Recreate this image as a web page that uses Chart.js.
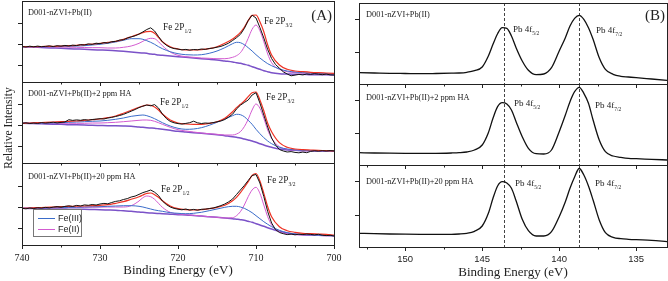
<!DOCTYPE html>
<html lang="en">
<head>
<meta charset="UTF-8">
<title>Fe 2p and Pb 4f XPS spectra</title>
<script src="https://cdn.jsdelivr.net/npm/chart.js"></script>
<style>
  body { margin: 0; background: #fff; }
  #fig { position: relative; width: 668px; height: 281px; overflow: hidden; font-family: "Liberation Serif", serif; color: #222; }
  #fig canvas { position: absolute; }
  .lbl { position: absolute; white-space: nowrap; line-height: 1; transform: translateY(-50%); }
  .name { font-size: 8.3px; }
  .peak { font-size: 9.3px; }
  .pb { font-size: 9px; }
  .s { font-size: 5.5px; position: relative; top: 3px; }
  .tag { font-size: 15px; transform: translate(-100%, -50%); }
  .ylab { position: absolute; left: 8px; top: 128px; font-size: 11.5px; white-space: nowrap; transform: translate(-50%, -50%) rotate(-90deg); }
  #legend { position: absolute; left: 33px; top: 209px; width: 49px; height: 28px; border: 1px solid #777; box-sizing: border-box;
            font-family: "Liberation Sans", sans-serif; font-size: 9px; padding-top: 3px; }
  #legend div { height: 11px; line-height: 11px; white-space: nowrap; }
  #legend span { display: inline-block; width: 17px; height: 1px; vertical-align: middle; margin: 0 3px 0 4px; }
</style>
</head>
<body>
<div id="fig">
  <canvas id="a1"></canvas><canvas id="a2"></canvas><canvas id="a3"></canvas>
  <canvas id="b1"></canvas><canvas id="b2"></canvas><canvas id="b3"></canvas>

  <div class="ylab">Relative Intensity</div>

  <!-- panel A labels -->
  <div class="lbl name" style="left:28px;top:13px">D001-nZVI+Pb(II)</div>
  <div class="lbl peak" style="left:163px;top:28px">Fe 2P<span class="s">1/2</span></div>
  <div class="lbl peak" style="left:264px;top:22px">Fe 2P<span class="s">3/2</span></div>
  <div class="lbl tag" style="left:332px;top:15px">(A)</div>
  <div class="lbl name" style="left:28px;top:94px">D001-nZVI+Pb(II)+2 ppm HA</div>
  <div class="lbl peak" style="left:160px;top:103px">Fe 2P<span class="s">1/2</span></div>
  <div class="lbl peak" style="left:266px;top:98px">Fe 2P<span class="s">3/2</span></div>
  <div class="lbl name" style="left:28px;top:177px">D001-nZVI+Pb(II)+20 ppm HA</div>
  <div class="lbl peak" style="left:161px;top:190px">Fe 2P<span class="s">1/2</span></div>
  <div class="lbl peak" style="left:267px;top:181px">Fe 2P<span class="s">3/2</span></div>
  <div id="legend"></div>

  <!-- panel B labels -->
  <div class="lbl name" style="left:366px;top:15px">D001-nZVI+Pb(II)</div>
  <div class="lbl pb" style="left:513px;top:29px">Pb 4f<span class="s">5/2</span></div>
  <div class="lbl pb" style="left:596px;top:30px">Pb 4f<span class="s">7/2</span></div>
  <div class="lbl tag" style="left:665px;top:15px">(B)</div>
  <div class="lbl name" style="left:366px;top:98px">D001-nZVI+Pb(II)+2 ppm HA</div>
  <div class="lbl pb" style="left:514px;top:103px">Pb 4f<span class="s">5/2</span></div>
  <div class="lbl pb" style="left:595px;top:105px">Pb 4f<span class="s">7/2</span></div>
  <div class="lbl name" style="left:366px;top:182px">D001-nZVI+Pb(II)+20 ppm HA</div>
  <div class="lbl pb" style="left:515px;top:183px">Pb 4f<span class="s">5/2</span></div>
  <div class="lbl pb" style="left:595px;top:183px">Pb 4f<span class="s">7/2</span></div>
</div>

<script>
// ---- Fe 2p (panel A) ----
const feE = [740,739,738,737,736,735,734,733,732,731,730,729,728,727,726,725,724.5,724,723.5,723,722.5,722,
  721,720,719,718,717,716,715,714,713,712.5,712,711.5,711,710.5,710,709.5,709,708.5,708,707,706,705,704,703,702,701,700];
const rawE = [740,739.5,739,738.5,738,737.5,737,736.5,736,735.5,735,734.5,734,733.5,733,732.5,732,731.5,731,730.5,
  730,729.5,729,728.5,728,727.5,727,726.5,726,725.5,725,724.5,724,723.5,723,722.5,722,721.5,721,720.5,
  720,719.5,719,718.5,718,717.5,717,716.5,716,715.5,715,714.5,714,713.5,713,712.5,712,711.5,711,710.5,
  710,709.5,709,708.5,708,707.5,707,706.5,706,705.5,705,704.5,704,703.5,703,702.5,702,701.5,701,700.5,700];

// D001-nZVI+Pb(II)
const a1Raw = [35.5,35.0,35.8,35.2,35.9,35.3,35.6,36.2,35.4,36.3,35.8,36.6,36.0,36.9,36.4,37.4,37.0,38.1,37.6,38.8,
  38.3,39.4,39.0,40.3,40.6,41.9,42.2,44.0,45.1,46.2,47.9,50.1,52.5,54.2,51.0,45.5,40.2,36.8,34.6,33.4,
  32.9,32.1,32.6,31.8,32.5,32.2,33.0,32.6,33.5,33.9,34.8,35.6,37.1,38.9,41.5,44.3,47.6,53.5,61.5,66.8,
  64.0,54.5,44.0,32.5,23.5,17.5,13.8,10.2,8.0,6.2,6.9,7.6,7.1,8.0,7.6,8.3,7.8,7.3,7.9,7.2,7.0];
const a1Fit = [35.3,35.3,35.3,35.7,35.7,36,36.3,36.7,37.3,38,38.7,39.7,40.7,42.7,45.3,48,49.3,50.3,50.7,48.7,44.7,40.3,
  35.3,33,32,32,32.3,33.3,35.3,38.7,43,46,49.7,54.7,61.3,66.7,67,60.3,50.3,37,27,17,12.7,11,10.3,9.7,9.3,9,8.7];
const a1Fe3 = [35.3,35.3,35.3,35.3,35.3,35.7,35.7,36,36.3,37,37.7,38.7,40,41.7,43.3,43.3,42.7,41.3,39.7,37.7,35.3,33.3,
  30.3,28.3,27.3,27,27.3,28.7,31,34.3,38.3,39.7,39.3,37.3,34.3,31,27.3,24,21,18.3,16.3,13,11,10,9.3,9,8.7,8.3,8];
const a1Fe2 = [35.3,35.3,35.2,35.2,35,35,34.8,34.7,34.5,34.3,34.3,34,34,34.7,36,38.7,40.7,42.7,43.7,43.3,40.3,36.3,
  30,26.7,25.3,24.7,24,23.7,23.3,23.3,24.7,26.3,29.3,35.3,43.7,52.7,57,51.3,40.3,28,19.3,12.7,10.3,9.3,9,8.7,8.3,8,7.7];
const a1Bg = [35.3,35,34.7,34.3,34,33.7,33.3,33,32.7,32.3,32,31.7,31.3,30.7,30,29.3,29,28.7,28,27.7,27,26.7,
  26,25.3,24.7,24,23.3,22.7,22,21,20,19.3,18.7,17.7,16.7,15.3,14,12.7,11.3,10.3,9.3,8.3,8,7.7,7.7,7.3,7.3,7.3,7];

// D001-nZVI+Pb(II)+2 ppm HA
const a2Raw = [39.7,40.2,39.5,40.0,39.6,40.4,39.9,40.3,40.8,40.1,40.6,41.0,43.3,42.6,43.1,42.7,43.4,42.8,43.5,43.9,
  44.3,44.0,45.0,45.6,46.5,47.5,48.6,50.2,51.8,53.5,55.4,56.8,58.0,57.2,58.4,55.0,49.0,44.5,41.6,40.2,
  39.4,38.9,39.6,40.3,41.8,40.2,39.5,40.0,39.7,40.4,41.2,42.0,43.5,46.0,48.8,54.0,57.8,60.5,63.0,68.0,
  70.3,60.0,48.0,36.0,25.0,18.0,13.5,12.0,11.0,11.4,10.6,10.2,10.9,10.3,11.6,12.2,11.8,12.3,12.0,12.4,12.1];
const a2Fit = [39.7,40,40.3,40.7,41,41.3,41.7,42,42.7,43.3,44,45.3,47,49.7,52.7,55.7,57,58,57.7,56,53,49,
  43,40,39,38.7,38.7,39.7,41.3,44.7,51.3,55.3,58.7,62,66.3,70.3,71,63,52.3,39.7,31.3,20.3,15.7,14,13.3,13,12.7,12.3,12];
const a2Fe3 = [39.7,39.7,39.7,40,40,40.3,40.7,41,41.3,41.7,42,42.7,43.7,45,46.7,47.7,48,47.3,46,44.3,42.3,40.3,
  37,34.7,33.7,34,35.3,37.7,40.7,44,47.3,48.7,48.3,46.3,42.7,38.7,33.7,29.3,25.3,22,19.3,15.7,14,13,12.7,12.3,12.3,12,12];
const a2Fe2 = [39.7,39.7,39.7,39.7,39.7,39.7,39.7,39.7,39.7,40,40,40.3,40.7,41.3,42,42.7,43,43,42.7,41.7,40.3,38.7,
  35.7,33.3,32,31,30,29.3,28.7,28,28,29,31.3,36.3,43.7,53,59,54.7,44.7,33,24.7,16.3,13.7,12.7,12.3,12.3,12,12,12];
const a2Bg = [39.7,39.5,39.3,39,38.8,38.7,38.3,38.2,38,37.7,37.5,37.3,37.2,37,36.7,36,35.7,35.3,35,34.7,34.2,33.7,
  32.7,31.7,31,30.3,29.7,29,28.3,27.3,26.3,25.7,25,24,23,22,20.7,19.3,18,16.7,15.7,14,13,12.7,12.3,12.2,12,12,11.8];

// D001-nZVI+Pb(II)+20 ppm HA
const a3Raw = [36.7,36.2,37.0,36.5,37.3,36.9,37.6,37.1,37.9,38.4,37.8,38.6,39.2,38.5,39.6,39.0,40.1,39.7,40.5,40.0,
  41.0,41.6,41.2,42.5,43.6,44.2,45.5,46.4,48.0,48.9,50.6,52.4,53.6,55.0,52.8,49.5,44.0,40.5,38.0,36.6,
  35.8,35.2,36.0,34.9,35.6,34.8,35.7,35.9,36.4,37.0,38.1,39.4,41.0,43.2,46.0,50.5,55.0,59.5,64.5,69.5,
  70.5,62.0,48.5,33.5,22.0,15.5,12.5,11.3,10.4,10.9,10.2,10.8,10.5,11.0,10.6,10.1,10.7,9.8,9.4,9.7,9.0];
const a3Fit = [36.7,37,37.3,37.7,38,38.3,38.7,38.8,39,39.3,39.7,40.3,41.7,43.3,45.7,48.3,50,51.7,52,50.3,47.7,44.3,
  39,36.3,35.3,35,35.3,36.3,37.7,39.7,44.3,47.7,52.3,57.7,63.3,69.5,71.5,64,51.7,38.3,28.3,18.3,14.3,12.7,11.7,11.3,11,10.7,10];
const a3Fe3 = [36.7,36.8,37,37.2,37.3,37.5,37.7,37.8,38,38.2,38.3,38.7,39,39.3,39.3,38.7,38,37,36,35,34.3,33.7,
  32.3,31.7,31.3,31.7,32.7,34.3,36,37.7,38.7,38.7,38,36.7,34.7,32.3,29.3,26.3,23.3,20.7,18.3,14.7,12.3,11,10.3,10,9.7,9.5,9.3];
const a3Fe2 = [36.7,36.8,37,37.2,37.3,37.4,37.5,37.6,37.7,37.8,37.9,38,38,38,39.3,44,47.3,49,48.3,45.7,41.7,37.7,
  32.7,31,30.3,29.7,29,28.3,27.7,27,27.3,29.3,33.3,40,48.3,55,57.7,51.7,40,28.3,20,13.3,11.3,10.3,10,9.7,9.5,9.3,9.3];
const a3Bg = [36.7,36.5,36.3,36.2,36,36,35.8,35.7,35.7,35.5,35.3,35,34.7,34.2,33.7,33,32.7,32.3,32,31.7,31.5,31.3,
  30.8,30.3,30,29.5,29,28.3,27.7,27,26.3,25.8,25.3,24.7,23.7,22.7,21.3,20,18.7,17.3,16,13.7,12,11,10.3,10,9.7,9.5,9.3];

const feTicks = [740, 730, 720, 710, 700];
const feMinor = [735, 725, 715, 705];
const feYTicks = [17, 38, 59];

// ---- Pb 4f (panel B) ----
const pbE = [153,152,151,150,149,148,147,146.5,146,145.5,145,144.6,144.3,144,143.7,143.4,143.1,142.8,142.4,142,
  141.5,141,140.5,140,139.6,139.3,139,138.7,138.4,138.1,137.8,137.4,137,136.5,136,135.5,135,134,133];
const b1 = [11.3,11,10.7,10.5,10.3,10.5,10.8,11,11.7,13.3,17,28,39.7,50.3,56.3,55.7,48,36.3,23,13.7,
  9.3,10,16.3,33,46.3,58,65.7,68.7,64.7,56.3,44.7,26.3,14.7,9.7,7.7,7,6.3,5,3.7];
const b2 = [12.3,12,11.8,11.7,11.7,11.7,12,12.3,13,15,20,32.3,46.7,58.3,62.3,61,55,43.3,28.3,16.7,
  11.3,11,15,33.3,50,63.3,73.3,77.7,71.7,61.7,45,25,13.3,9,7.7,6.7,6.3,5.7,5];
const b3 = [13.7,13.3,13,12.8,12.7,12.7,12.7,13,13.7,15.7,21,33.7,48.7,61,65.3,64,58.7,46.3,27.7,16.3,
  11,11,15.3,30.3,45.3,58.7,70,78.5,72,61,47,27,14.3,9.7,8.3,7.7,7.3,6.7,5.3];
const pbLines = [143.6, 138.7];
const pbTicks = [150, 145, 140, 135];
const pbMinor = [152.5, 147.5, 142.5, 137.5];
const pbYTicks = [32, 65];

const C = { raw: '#111', fit: '#ee3224', fe3: '#3a6cc9', fe2: '#d35bd0', bg: '#7b52c8', axis: '#222' };
const legendItems = [['Fe(III)', C.fe3], ['Fe(II)', C.fe2]];

const TICK = 4, PAD_L = 12, PAD_R = 12, PAD_T = 3, X_H = 33;

function line(xs, ys, color, width, straight) {
  return {
    data: xs.map((x, i) => ({ x: x, y: ys[i] })),
    borderColor: color, borderWidth: width, pointRadius: 0, fill: false,
    tension: 0, cubicInterpolationMode: straight ? 'default' : 'monotone'
  };
}

function overlay(minor, refs) {
  return [{
    id: 'refLines',
    beforeDatasetsDraw(chart) {
      const { ctx, chartArea: a, scales: { x } } = chart;
      ctx.save();
      ctx.strokeStyle = '#444'; ctx.lineWidth = 1; ctx.setLineDash([3, 2]);
      refs.forEach(v => {
        const px = Math.round(x.getPixelForValue(v)) + 0.5;
        ctx.beginPath(); ctx.moveTo(px, a.top); ctx.lineTo(px, a.bottom); ctx.stroke();
      });
      ctx.restore();
    }
  }, {
    id: 'frameTicks',
    afterDraw(chart) {
      const { ctx, chartArea: a, scales: { x } } = chart;
      ctx.save();
      ctx.strokeStyle = C.axis; ctx.lineWidth = 1;
      ctx.strokeRect(Math.round(a.left) + 0.5, Math.round(a.top) + 0.5, Math.round(a.width), Math.round(a.height));
      ctx.beginPath();
      minor.forEach(v => {
        const px = Math.round(x.getPixelForValue(v)) + 0.5;
        ctx.moveTo(px, a.bottom); ctx.lineTo(px, a.bottom + 2.5);
      });
      ctx.stroke();
      ctx.restore();
    }
  }];
}

function subplot(id, box, o) {
  const cv = document.getElementById(id);
  cv.width = PAD_L + TICK + box.w + PAD_R;
  cv.height = PAD_T + box.h + (o.last ? X_H : TICK + 1);
  cv.style.left = (box.x - PAD_L - TICK) + 'px';
  cv.style.top = (box.y - PAD_T) + 'px';
  return new Chart(cv, {
    type: 'line',
    data: { datasets: o.datasets },
    options: {
      responsive: false, animation: false, devicePixelRatio: 1,
      layout: { padding: { left: PAD_L, right: PAD_R, top: PAD_T, bottom: o.last ? 0 : 1 } },
      plugins: { legend: { display: false }, tooltip: { enabled: false } },
      scales: {
        x: {
          type: 'linear', min: o.xMin, max: o.xMax, reverse: true,
          afterBuildTicks: s => { s.ticks = o.xTicks.map(v => ({ value: v })); },
          afterFit: s => { s.height = o.last ? X_H : TICK; },
          grid: { drawOnChartArea: false, tickLength: TICK, color: C.axis },
          border: { display: false },
          ticks: { display: !!o.last, font: o.tickFont, color: C.axis, padding: 3, maxRotation: 0, autoSkip: false },
          title: { display: !!o.last, text: 'Binding Energy (eV)', color: C.axis,
                   font: { family: 'Liberation Serif', size: 13 }, padding: { top: 0, bottom: 0 } }
        },
        y: {
          min: 0, max: box.h,
          afterBuildTicks: s => { s.ticks = o.yTicks.map(v => ({ value: v })); },
          afterFit: s => { s.width = TICK; },
          grid: { drawOnChartArea: false, tickLength: TICK, color: C.axis },
          border: { display: false },
          ticks: { display: false }
        }
      }
    },
    plugins: overlay(o.minor, o.refs || [])
  });
}

function feSets(raw, fit, fe3, fe2, bg) {
  return [
    line(rawE, raw, C.raw, 1, true),
    line(feE, fit, C.fit, 1.2),
    line(feE, fe3, C.fe3, 1),
    line(feE, fe2, C.fe2, 1),
    line(feE, bg, C.bg, 1.5)
  ];
}

const feOpt = { xMin: 700, xMax: 740, xTicks: feTicks, minor: feMinor, yTicks: feYTicks,
                tickFont: { family: 'Liberation Serif', size: 10 } };
subplot('a1', { x: 22, y: 1, w: 312, h: 81 }, { ...feOpt, datasets: feSets(a1Raw, a1Fit, a1Fe3, a1Fe2, a1Bg) });
subplot('a2', { x: 22, y: 82, w: 312, h: 81 }, { ...feOpt, datasets: feSets(a2Raw, a2Fit, a2Fe3, a2Fe2, a2Bg) });
subplot('a3', { x: 22, y: 163, w: 312, h: 82 }, { ...feOpt, last: true, datasets: feSets(a3Raw, a3Fit, a3Fe3, a3Fe2, a3Bg) });

const pbOpt = { xMin: 133, xMax: 153, xTicks: pbTicks, minor: pbMinor, yTicks: pbYTicks, refs: pbLines,
                tickFont: { family: 'Liberation Sans', size: 9.5 } };
subplot('b1', { x: 359, y: 3, w: 308, h: 81 }, { ...pbOpt, datasets: [line(pbE, b1, C.raw, 1.3)] });
subplot('b2', { x: 359, y: 84, w: 308, h: 81 }, { ...pbOpt, datasets: [line(pbE, b2, C.raw, 1.3)] });
subplot('b3', { x: 359, y: 165, w: 308, h: 82 }, { ...pbOpt, last: true, datasets: [line(pbE, b3, C.raw, 1.3)] });

// legend inside the lowest Fe panel
const lg = document.getElementById('legend');
legendItems.forEach(([label, color]) => {
  const row = document.createElement('div');
  row.innerHTML = '<span style="background:' + color + '"></span>' + label;
  lg.appendChild(row);
});
</script>
</body>
</html>
